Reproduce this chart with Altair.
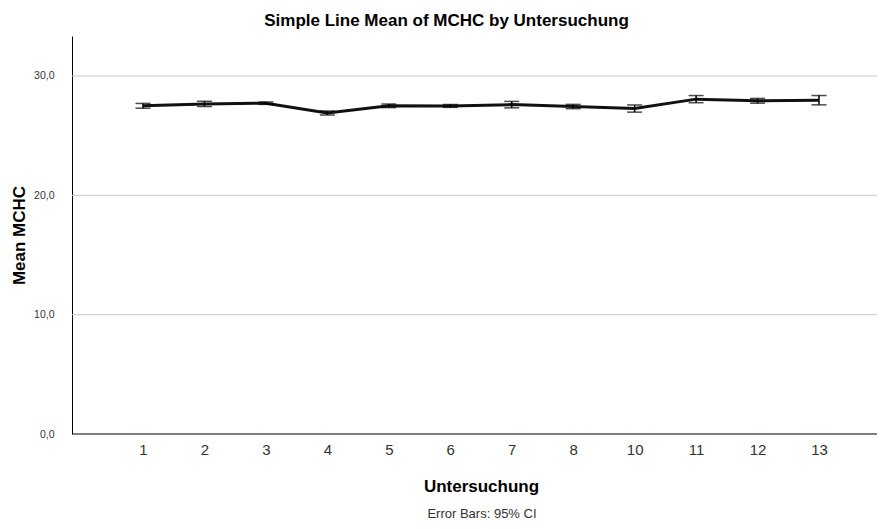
import altair as alt
import pandas as pd

categories = ["1", "2", "3", "4", "5", "6", "7", "8", "10", "11", "12", "13"]
means = [27.50, 27.66, 27.72, 26.90, 27.50, 27.49, 27.60, 27.44, 27.27, 28.06, 27.92, 27.97]
ci_half = [0.20, 0.22, 0.10, 0.17, 0.15, 0.12, 0.27, 0.18, 0.30, 0.30, 0.20, 0.39]
y_ticks = [0, 10, 20, 30]
grid_values = [10, 20, 30]

df = pd.DataFrame({
    "Untersuchung": categories,
    "mean": means,
    "lo": [m - h for m, h in zip(means, ci_half)],
    "hi": [m + h for m, h in zip(means, ci_half)],
})

W, H = 805, 398
FONT = "Liberation Sans"
NARROW = "'Liberation Sans Narrow', 'Liberation Sans'"
xscale = alt.Scale(type="point", range=[71, 747], padding=0)
yscale = alt.Scale(domain=[0, 33.35], nice=False, zero=True)

xenc = alt.X("Untersuchung:N", sort=categories, scale=xscale,
             axis=alt.Axis(title="Untersuchung", labelAngle=0, ticks=False, domain=False,
                           labelFontSize=15, labelColor="#333333", labelFont=NARROW,
                           labelPadding=8, titleFontSize=17, titleFont=FONT,
                           titleFontWeight="bold", titlePadding=21, titleColor="#000000",
                           grid=False))

grid = alt.Chart(pd.DataFrame({"g": grid_values})).mark_rule(
    color="#c8c8c8", strokeWidth=1
).encode(
    y=alt.Y("g:Q", scale=yscale),
    x=alt.value(0),
    x2=alt.value(W),
)

baseline = alt.Chart(pd.DataFrame({"g": [0]})).mark_rule(
    color="#000000", strokeWidth=1
).encode(
    y=alt.Y("g:Q", scale=yscale),
    x=alt.value(0),
    x2=alt.value(W),
)

line = alt.Chart(df).mark_line(color="#111111", strokeWidth=3).encode(
    x=xenc,
    y=alt.Y("mean:Q", scale=yscale,
            axis=alt.Axis(title="Mean MCHC", values=y_ticks,
                          labelExpr="replace(format(datum.value, '.1f'), '.', ',')",
                          labelFontSize=10.5, labelColor="#333333", labelFont=FONT,
                          ticks=False, labelPadding=18,
                          titleFontSize=17, titleFont=FONT, titleFontWeight="bold",
                          titleColor="#000000", titlePadding=5,
                          domainColor="#000000", domainWidth=1, grid=False)),
)

rules = alt.Chart(df).mark_rule(color="#000000", strokeWidth=1.5).encode(
    x=alt.X("Untersuchung:N", sort=categories, scale=xscale),
    y="lo:Q",
    y2="hi:Q",
)

cap_lo = alt.Chart(df).mark_tick(color="#000000", thickness=1.5, size=15, orient="horizontal").encode(
    x=alt.X("Untersuchung:N", sort=categories, scale=xscale),
    y="lo:Q",
)
cap_hi = alt.Chart(df).mark_tick(color="#000000", thickness=1.5, size=15, orient="horizontal").encode(
    x=alt.X("Untersuchung:N", sort=categories, scale=xscale),
    y="hi:Q",
)

footnote = alt.Chart(pd.DataFrame({"t": ["Error Bars: 95% CI"]})).mark_text(
    font=NARROW, fontSize=13, color="#333333", baseline="middle", align="center"
).encode(
    text="t:N",
    x=alt.value(410),
    y=alt.value(H + 80),
)

chart = alt.layer(grid, baseline, line, rules, cap_lo, cap_hi, footnote).properties(
    width=W, height=H,
    background="white",
    title=alt.TitleParams("Simple Line Mean of MCHC by Untersuchung", font=FONT,
                          fontSize=17, fontWeight="bold", color="#000000",
                          anchor="middle", offset=6, dx=-28),
    autosize=alt.AutoSizeParams(type="none"),
    padding={"left": 64, "top": 28, "right": 0, "bottom": 87},
).configure_view(strokeOpacity=0)

chart.save("out.html", embed_options={"renderer": "svg", "actions": False})
